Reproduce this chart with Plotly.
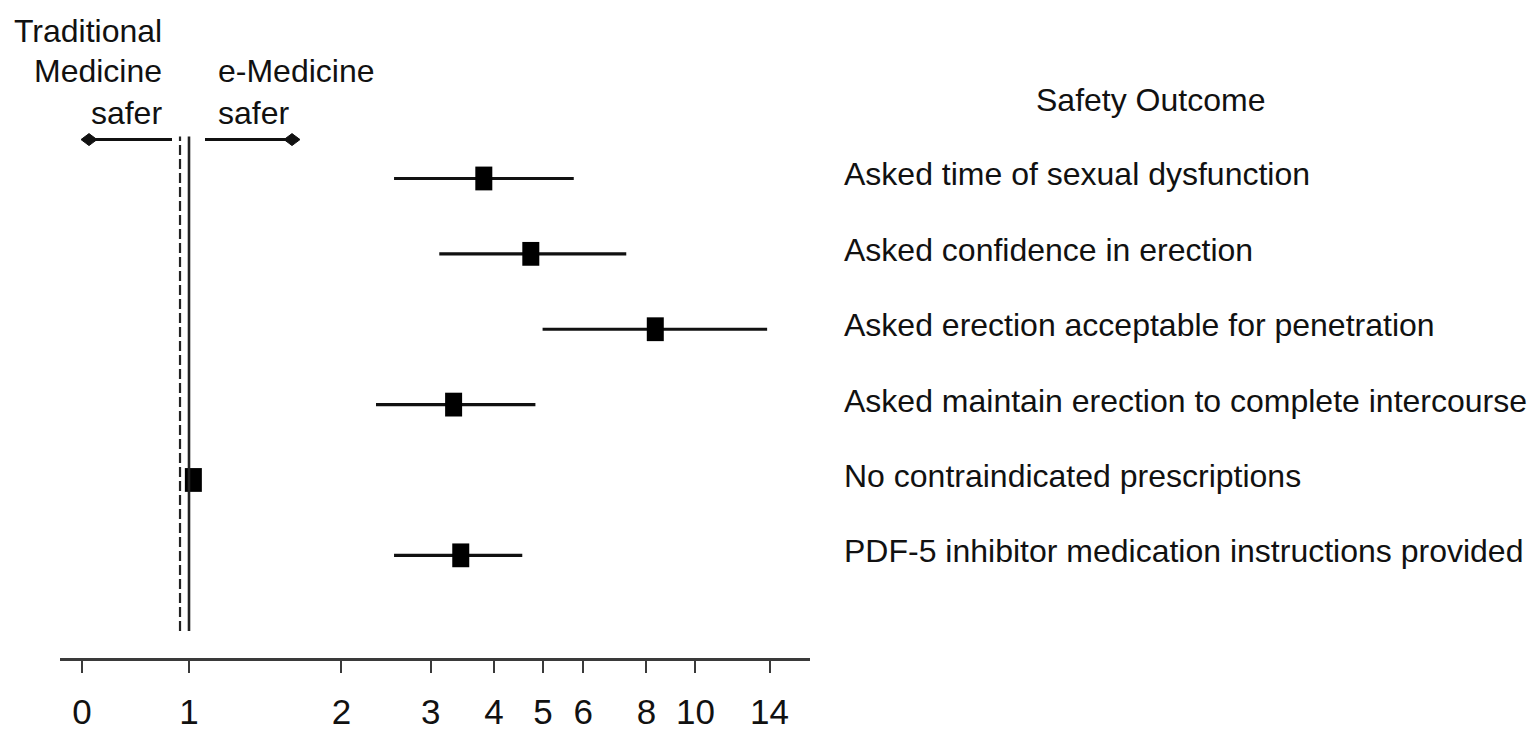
import numpy as np
import plotly.graph_objects as go

# Safety outcomes, e-Medicine vs traditional medicine (odds ratios with 95% CI)
outcomes = [
    "Asked time of sexual dysfunction",
    "Asked confidence in erection",
    "Asked erection acceptable for penetration",
    "Asked maintain erection to complete intercourse",
    "No contraindicated prescriptions",
    "PDF-5 inhibitor medication instructions provided",
]
odds_ratio = [3.82, 4.73, 8.33, 3.33, 1.02, 3.44]
ci_lower = [2.54, 3.12, 4.99, 2.34, 0.99, 2.54]
ci_upper = [5.75, 7.30, 13.85, 4.83, 1.05, 4.55]

tick_values = [0.615, 1, 2, 3, 4, 5, 6, 8, 10, 14]
tick_labels = ["0", "1", "2", "3", "4", "5", "6", "8", "10", "14"]

null_value = 1.0
margin_value = 0.96

FONT = "Liberation Sans, Arial, Helvetica, sans-serif"
FS = 32
INK = "#111111"
AXIS = "#3a3a3a"

W, H = 1531, 731
L_M, R_M, T_M, B_M = 60, 721, 0, 71
PW, PH = W - L_M - R_M, H - T_M - B_M


def px(x):
    return (x - L_M) / PW


def py(y):
    return (H - B_M - y) / PH


rows = list(range(len(outcomes)))
or_arr = np.array(odds_ratio)
err_plus = np.array(ci_upper) - or_arr
err_minus = or_arr - np.array(ci_lower)

fig = go.Figure()

# confidence intervals
fig.add_trace(go.Scatter(
    x=odds_ratio, y=rows, mode="markers",
    marker=dict(size=0.1, color=INK),
    error_x=dict(type="data", symmetric=False, array=err_plus,
                 arrayminus=err_minus, width=0, thickness=3.2, color=INK),
    hoverinfo="skip", showlegend=False,
))
# point estimates
fig.add_trace(go.Scatter(
    x=odds_ratio, y=rows, mode="markers",
    marker=dict(symbol="line-ns", size=17,
                line=dict(width=17, color="#000000")),
    showlegend=False,
))

shapes = []
# reference lines at the null value and the margin
shapes.append(dict(type="line", xref="x", yref="paper",
                   x0=null_value, x1=null_value, y0=py(633), y1=py(137),
                   line=dict(color="#222222", width=2.6)))
shapes.append(dict(type="line", xref="x", yref="paper",
                   x0=margin_value, x1=margin_value, y0=py(633), y1=py(137),
                   line=dict(color="#222222", width=2.2, dash="10px,4px")))

# direction arrows with diamond heads
ay = 140
shapes.append(dict(type="line", xref="paper", yref="paper",
                   x0=px(88), x1=px(172), y0=py(ay), y1=py(ay),
                   line=dict(color=INK, width=3)))
shapes.append(dict(type="line", xref="paper", yref="paper",
                   x0=px(205), x1=px(294), y0=py(ay), y1=py(ay),
                   line=dict(color=INK, width=3)))


def diamond(cx, cy, hw=8, hh=6):
    return (f"M {px(cx - hw)},{py(cy)} L {px(cx)},{py(cy - hh)} "
            f"L {px(cx + hw)},{py(cy)} L {px(cx)},{py(cy + hh)} Z")


for cx in (89, 292):
    shapes.append(dict(type="path", xref="paper", yref="paper",
                       path=diamond(cx, ay), fillcolor=INK,
                       line=dict(color=INK, width=1)))

annotations = []


def text(s, x, y, anchor, align="center"):
    annotations.append(dict(text=s, xref="paper", yref="paper",
                            x=px(x), y=py(y), xanchor=anchor, yanchor="middle",
                            align=align, showarrow=False,
                            font=dict(family=FONT, size=FS, color=INK)))


text("Traditional", 164, 31, "right", "right")
text("Medicine<br>safer", 164, 92, "right", "right")
text("e-Medicine<br>safer", 216, 92, "left", "left")
text("Safety Outcome", 1150, 100, "center")

for r, name in zip(rows, outcomes):
    annotations.append(dict(text=name, xref="paper", yref="y",
                            x=px(842), y=r, yshift=4,
                            xanchor="left", yanchor="middle", showarrow=False,
                            font=dict(family=FONT, size=FS, color=INK)))

log_lo = -0.2547
log_hi = 1.2261

fig.update_layout(
    width=W, height=H,
    margin=dict(l=L_M, r=R_M, t=T_M, b=B_M, pad=0),
    paper_bgcolor="white", plot_bgcolor="white",
    shapes=shapes, annotations=annotations,
    showlegend=False,
    xaxis=dict(type="log", range=[log_lo, log_hi],
               tickvals=tick_values, ticktext=tick_labels,
               showgrid=False, zeroline=False,
               showline=True, linecolor=AXIS, linewidth=2.6,
               ticks="outside", ticklen=12, tickwidth=2, tickcolor=AXIS,
               ticklabelstandoff=9,
               tickfont=dict(family=FONT, size=35, color=INK)),
    yaxis=dict(range=[6.362, -2.368], visible=False,
               showgrid=False, zeroline=False),
)

fig.write_html("out.html")
